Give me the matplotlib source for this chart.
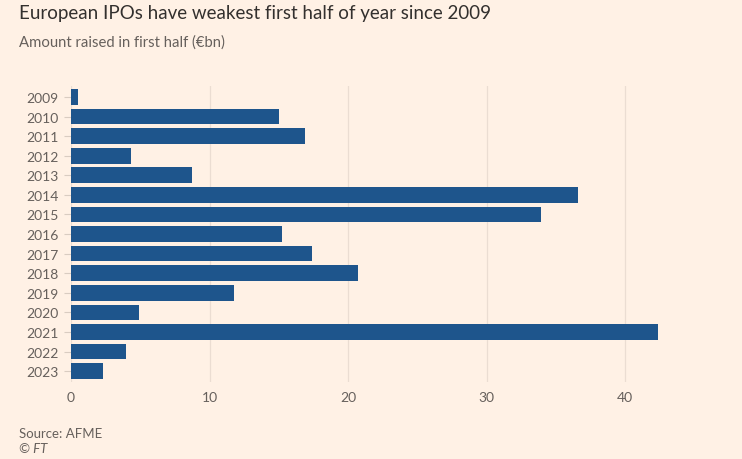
import matplotlib.pyplot as plt

years = ["2009", "2010", "2011", "2012", "2013", "2014", "2015", "2016",
         "2017", "2018", "2019", "2020", "2021", "2022", "2023"]
amount = [0.5, 15.0, 16.9, 4.3, 8.7, 36.6, 33.9, 15.2,
          17.4, 20.7, 11.8, 4.9, 42.4, 4.0, 2.3]
xticks = [0, 10, 20, 30, 40]

bg = "#FFF1E5"
bar_col = "#1E558C"
grey = "#66605C"

plt.rcParams["font.family"] = ["Lato", "DejaVu Sans"]

fig = plt.figure(figsize=(7.42, 4.6), dpi=100, facecolor=bg)
ax = fig.add_axes([0.0957, 0.167, 0.84, 0.644], facecolor=bg)

pos = list(range(len(years)))
ax.barh(pos, amount, height=0.8, color=bar_col, zorder=3)

ax.set_ylim(14.56, -0.56)
ax.set_xlim(0, 45)
ax.set_yticks(pos, years)
ax.set_xticks(xticks, [str(t) for t in xticks])
ax.grid(axis="x", color="#EBDDD2", linewidth=0.9, zorder=0)
for s in ax.spines.values():
    s.set_visible(False)
ax.tick_params(axis="y", length=5, width=0.8, color="#D9CCC1",
               labelsize=10, labelcolor=grey, pad=4)
ax.tick_params(axis="x", length=0, labelsize=10, labelcolor=grey, pad=6)

fig.text(0.025, 0.958, "European IPOs have weakest first half of year since 2009",
         fontsize=13.5, color="#33302E", va="baseline")
fig.text(0.025, 0.898, "Amount raised in first half (\u20acbn)",
         fontsize=10.7, color=grey, va="baseline")
fig.text(0.025, 0.048, "Source: AFME", fontsize=9.5, color=grey, va="baseline")
fig.text(0.025, 0.015, "\u00a9 FT", fontsize=9.5, color=grey, style="italic",
         va="baseline")

fig.savefig("out.png", dpi=100, facecolor=bg)
